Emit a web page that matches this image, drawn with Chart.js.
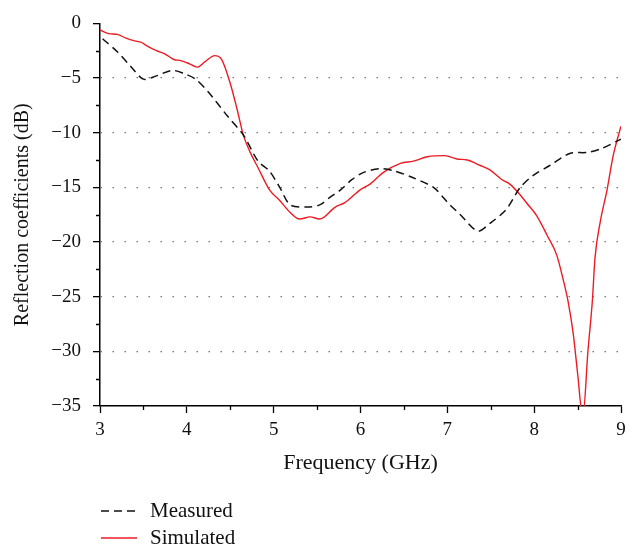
<!DOCTYPE html>
<html>
<head>
<meta charset="utf-8">
<script src="https://cdn.jsdelivr.net/npm/chart.js@4/dist/chart.umd.min.js"></script>
<style>
  html, body { margin: 0; padding: 0; background: #fff; }
  #wrap { width: 639px; height: 552px; }
</style>
</head>
<body>
<div id="wrap"><canvas id="chart" width="639" height="552"></canvas></div>
<script>
// Frequency (GHz) / reflection coefficient (dB)
const measuredFreq = [3.03, 3.2, 3.35, 3.5, 3.65, 3.83, 3.97, 4.1, 4.25, 4.47, 4.65, 4.82, 4.95,
    5.07, 5.19, 5.38, 5.53, 5.65, 5.76, 5.9, 6.03, 6.22, 6.37, 6.6, 6.84, 6.95, 7.03, 7.15,
    7.35, 7.49, 7.68, 7.84, 7.99, 8.18, 8.41, 8.61, 8.76, 9.0];
const measuredDb = [-1.4, -2.6, -3.9, -5.1, -4.8, -4.3, -4.6, -5.1, -6.3, -8.5, -10.2, -12.6, -13.5,
    -15.0, -16.6, -16.8, -16.6, -15.9, -15.3, -14.3, -13.65, -13.3, -13.45, -14.1, -15.0, -15.9, -16.6, -17.5,
    -19.0, -18.3, -17.0, -15.0, -13.9, -13.0, -11.9, -11.8, -11.5, -10.6];

const simulatedFreq = [3.0, 3.1, 3.2, 3.3, 3.4, 3.47, 3.55, 3.65, 3.75, 3.85, 3.93, 4.0, 4.07, 4.12,
    4.21, 4.32, 4.4, 4.5, 4.58, 4.65, 4.73, 4.82, 4.95, 5.07, 5.19, 5.3, 5.42, 5.53, 5.71, 5.82,
    6.0, 6.11, 6.26, 6.46, 6.61, 6.77, 6.97, 7.11, 7.23, 7.38, 7.49, 7.63, 7.72, 7.84, 7.92,
    8.03, 8.15, 8.26, 8.33, 8.39, 8.45, 8.5, 8.56, 8.62, 8.67, 8.7, 8.76, 8.84, 8.91, 9.0];
const simulatedDb = [-0.6, -0.93, -1.0, -1.35, -1.6, -1.72, -2.1, -2.5, -2.8, -3.3, -3.4, -3.6, -3.85, -4.0,
    -3.5, -2.95, -3.3, -5.5, -7.9, -10.2, -11.8, -13.2, -15.2, -16.2, -17.3, -17.9, -17.7, -17.9, -16.8, -16.4,
    -15.2, -14.7, -13.65, -12.8, -12.6, -12.2, -12.1, -12.4, -12.5, -13.0, -13.4, -14.3, -14.7, -15.7, -16.5,
    -17.6, -19.4, -21.2, -23.3, -25.4, -28.4, -32.0, -36.0, -29.9, -25.4, -21.5, -18.2, -15.2, -12.1, -9.4];

const seriesNames = ['Measured', 'Simulated'];

const FONT = '"Liberation Serif", "Times New Roman", serif';
const RED = '#ec1c24';

function toPoints(xs, ys) {
    return xs.map((x, i) => ({ x: x, y: ys[i] }));
}

// short minor ticks between the labelled ones + the legend under the plot
const extrasPlugin = {
    id: 'extras',
    afterDraw(chart) {
        const ctx = chart.ctx;
        const xs = chart.scales.x;
        const ys = chart.scales.y;
        const area = chart.chartArea;
        ctx.save();
        ctx.strokeStyle = '#000';
        ctx.lineWidth = 1.3;
        ctx.beginPath();
        for (let v = 3.5; v < 9; v += 1) {
            const px = Math.round(xs.getPixelForValue(v)) + 0.5;
            ctx.moveTo(px, area.bottom);
            ctx.lineTo(px, area.bottom + 4);
        }
        for (let v = -2.5; v > -35; v -= 5) {
            const py = Math.round(ys.getPixelForValue(v)) + 0.5;
            ctx.moveTo(area.left, py);
            ctx.lineTo(area.left - 4, py);
        }
        ctx.stroke();

        // legend
        ctx.font = '21px ' + FONT;
        ctx.textBaseline = 'middle';
        ctx.fillStyle = '#111';
        chart.data.datasets.forEach((ds, i) => {
            const y = 511 + i * 27;
            ctx.beginPath();
            ctx.strokeStyle = ds.borderColor;
            ctx.lineWidth = ds.borderWidth;
            ctx.setLineDash(ds.borderDash || []);
            ctx.moveTo(101, y);
            ctx.lineTo(137, y);
            ctx.stroke();
            ctx.setLineDash([]);
            ctx.fillText(ds.label, 150, y);
        });
        ctx.restore();
    }
};

new Chart(document.getElementById('chart'), {
    type: 'line',
    data: {
        datasets: [{
            label: seriesNames[0],
            data: toPoints(measuredFreq, measuredDb),
            borderColor: '#111',
            borderWidth: 1.5,
            borderDash: [8, 5],
            pointRadius: 0,
            tension: 0.3
        }, {
            label: seriesNames[1],
            data: toPoints(simulatedFreq, simulatedDb),
            borderColor: RED,
            borderWidth: 1.4,
            pointRadius: 0,
            cubicInterpolationMode: 'monotone'
        }]
    },
    options: {
        responsive: false,
        animation: false,
        clip: true,
        layout: { padding: { top: 19, right: 18, bottom: 66, left: 0 } },
        plugins: {
            legend: { display: false },
            tooltip: { enabled: false }
        },
        scales: {
            x: {
                type: 'linear',
                min: 3,
                max: 9,
                afterFit: s => { s.height = 80; },
                ticks: {
                    stepSize: 1,
                    color: '#111',
                    padding: 6,
                    font: { family: FONT, size: 19 }
                },
                grid: {
                    drawOnChartArea: false,
                    tickLength: 7,
                    tickColor: '#000',
                    tickWidth: 1.3
                },
                border: { color: '#000', width: 1.5 },
                title: {
                    display: true,
                    text: 'Frequency (GHz)',
                    color: '#111',
                    padding: { top: 0, bottom: 10 },
                    font: { family: FONT, size: 22 }
                }
            },
            y: {
                min: -35,
                max: 0,
                afterFit: s => { s.width = 100; },
                ticks: {
                    stepSize: 5,
                    color: '#111',
                    padding: 12,
                    font: { family: FONT, size: 19 },
                    callback: v => (v < 0 ? '\u2212' + Math.abs(v) : String(v))
                },
                grid: {
                    color: c => (c.tick && (c.tick.value === 0 || c.tick.value === -35) ? 'rgba(0,0,0,0)' : '#777'),
                    lineWidth: 1.3,
                    tickLength: 7,
                    tickColor: '#000',
                    tickWidth: 1.3
                },
                border: { color: '#000', width: 1.5, dash: [1.5, 10.5] },
                title: {
                    display: true,
                    text: 'Reflection coefficients (dB)',
                    color: '#111',
                    padding: { top: 11, bottom: 0 },
                    font: { family: FONT, size: 20 }
                }
            }
        }
    },
    plugins: [extrasPlugin]
});
</script>
</body>
</html>
